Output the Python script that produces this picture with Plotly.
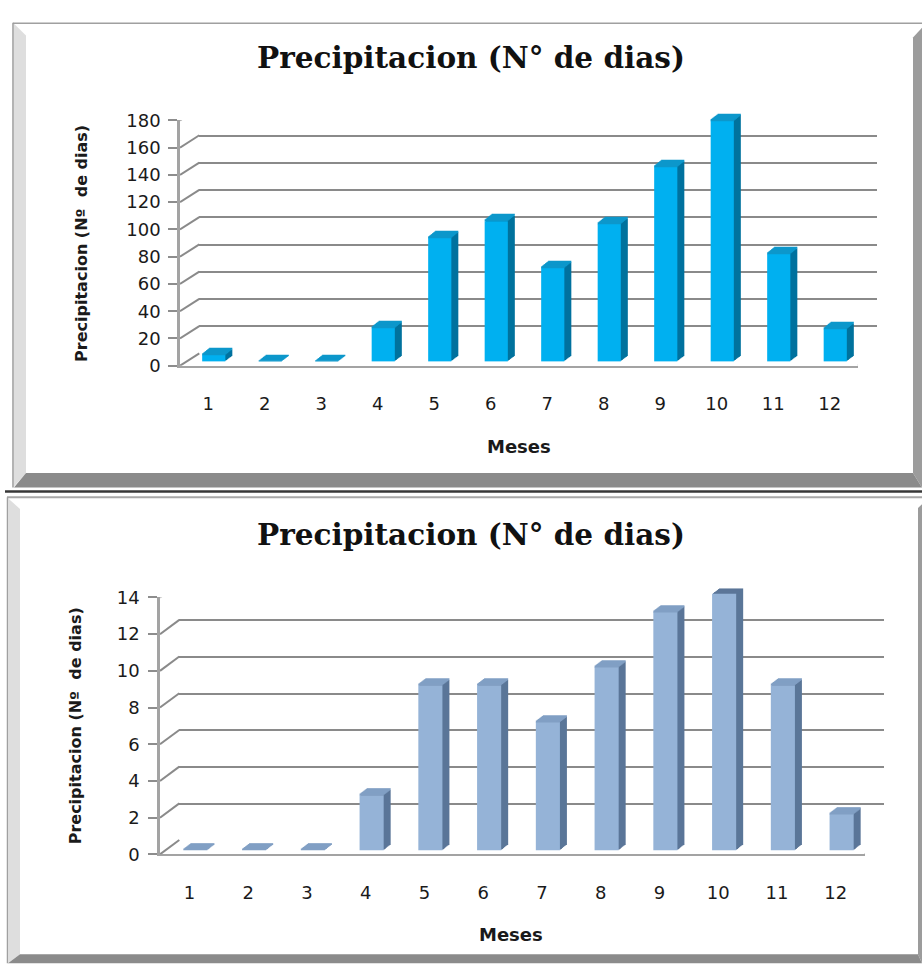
import plotly.graph_objects as go

W, H = 922, 980

# ---------------- data ----------------
meses = [1, 2, 3, 4, 5, 6, 7, 8, 9, 10, 11, 12]
meses_labels = ["1", "2", "3", "4", "5", "6", "7", "8", "9", "10", "11", "12"]
dias_top = [5, 0, 0, 25, 91, 103, 69, 101, 143, 177, 79, 24]
dias_bottom = [0, 0, 0, 3, 9, 9, 7, 10, 13, 14, 9, 2]
yticks_top = [0, 20, 40, 60, 80, 100, 120, 140, 160, 180]
yticks_bottom = [0, 2, 4, 6, 8, 10, 12, 14]
title_text = "Precipitacion (N° de dias)"
ytitle_text = "Precipitacion (Nº\u00a0 de dias)"
xtitle_text = "Meses"

# ---------------- layout constants (pixels) ----------------
charts = [
    dict(values=dias_top, ticks=yticks_top, ymax=180,
         x0=180, x1=858, y0=362.5, yt=111.7,
         depth=(19.3, 12.3), face=(5.5, 4.2), ext=(7.0, 5.5),
         face_col="#00B0F0", cap_col="#0C97CB", side_col="#00729E",
         title_xy=(471, 48), ytitle_xy=(82, 238), xtitle_xy=(519, 445),
         ytick_standoff=13),
    dict(values=dias_bottom, ticks=yticks_bottom, ymax=14,
         x0=160, x1=865, y0=861.8, yt=599.3,
         depth=(19.3, 14.3), face=(6.0, 4.0), ext=(7.0, 5.5),
         face_col="#95B3D7", cap_col="#819FC4", side_col="#5B7698",
         title_xy=(471, 535), ytitle_xy=(75, 731), xtitle_xy=(511, 944),
         ytick_standoff=14),
]
N_LAYERS = 7
BAR_W = 0.41

fig = go.Figure()
layout = {}
ax = [0]


def new_axes():
    ax[0] += 1
    i = ax[0]
    return i, ("x" if i == 1 else f"x{i}"), ("y" if i == 1 else f"y{i}"), \
        ("xaxis" if i == 1 else f"xaxis{i}"), ("yaxis" if i == 1 else f"yaxis{i}")


def domains(c, dx, dy):
    xd = [(c["x0"] + dx) / W, (c["x1"] + dx) / W]
    yd = [1 - (c["y0"] - dy) / H, 1 - (c["yt"] - dy) / H]
    return xd, yd


def blank_x(xd, yname):
    return dict(domain=xd, range=[0.5, 12.5], anchor=yname, visible=False,
                showgrid=False, zeroline=False, fixedrange=True)


def blank_y(yd, xname, ymax):
    return dict(domain=yd, range=[0, ymax], anchor=xname, visible=False,
                showgrid=False, zeroline=False, fixedrange=True)


annotations = []
shapes = []

for c in charts:
    px_per_unit = (c["y0"] - c["yt"]) / c["ymax"]
    cap_h = 1.2 / px_per_unit

    # back wall with gridlines
    i, xn, yn, xk, yk = new_axes()
    xd, yd = domains(c, *c["depth"])
    layout[xk] = blank_x(xd, yn)
    layout[yk] = dict(domain=yd, range=[0, c["ymax"]], anchor=xn, visible=True,
                      showgrid=True, gridcolor="#8a8a8a", gridwidth=2,
                      tickvals=c["ticks"], showticklabels=False, ticks="",
                      showline=False, zeroline=False, fixedrange=True)
    fig.add_trace(go.Scatter(x=[None], y=[None], xaxis=xn, yaxis=yn,
                             showlegend=False, hoverinfo="skip"))

    # extrusion layers, back to front, then the front face
    sx, sy = c["ext"][0] / N_LAYERS, c["ext"][1] / N_LAYERS
    for k in range(N_LAYERS, -1, -1):
        i, xn, yn, xk, yk = new_axes()
        xd, yd = domains(c, c["face"][0] + k * sx, c["face"][1] + k * sy)
        layout[xk] = blank_x(xd, yn)
        layout[yk] = blank_y(yd, xn, c["ymax"])
        body_col = c["face_col"] if k == 0 else c["side_col"]
        fig.add_trace(go.Bar(x=meses, y=c["values"], width=BAR_W,
                             marker=dict(color=body_col, line=dict(width=0)),
                             xaxis=xn, yaxis=yn, showlegend=False,
                             hoverinfo="skip"))
        fig.add_trace(go.Bar(x=meses, y=[cap_h] * len(meses), base=c["values"],
                             width=BAR_W,
                             marker=dict(color=c["cap_col"], line=dict(width=0)),
                             xaxis=xn, yaxis=yn, showlegend=False,
                             hoverinfo="skip"))

    # front axes with labels
    i, xn, yn, xk, yk = new_axes()
    xd, yd = domains(c, 0, 0)
    layout[xk] = dict(domain=xd, range=[0.5, 12.5], anchor=yn,
                      tickvals=meses, ticktext=meses_labels, ticks="",
                      ticklabelstandoff=21, showline=True, linecolor="#a3a3a3",
                      linewidth=2, showgrid=False, zeroline=False,
                      tickfont=dict(family="DejaVu Sans", size=18, color="#1a1a1a"),
                      fixedrange=True)
    layout[yk] = dict(domain=yd, range=[0, c["ymax"]], anchor=xn,
                      tickvals=c["ticks"], ticks="outside", ticklen=9,
                      tickwidth=1.5, tickcolor="#8d8d8d",
                      ticklabelstandoff=c["ytick_standoff"] - 9,
                      showline=True, linecolor="#a3a3a3", linewidth=2.5,
                      showgrid=False, zeroline=False,
                      tickfont=dict(family="DejaVu Sans", size=18, color="#1a1a1a"),
                      fixedrange=True)
    fig.add_trace(go.Scatter(x=[None], y=[None], xaxis=xn, yaxis=yn,
                             showlegend=False, hoverinfo="skip"))

    # left-wall diagonals from each front tick to the back gridline
    for t in c["ticks"]:
        shapes.append(dict(type="line", xref=xn, yref=yn,
                           xsizemode="pixel", ysizemode="pixel",
                           xanchor=0.5, yanchor=t, x0=0, y0=0,
                           x1=c["depth"][0], y1=c["depth"][1],
                           line=dict(color="#8a8a8a", width=2)))
    # floor right edge
    shapes.append(dict(type="line", xref=xn, yref=yn,
                       xsizemode="pixel", ysizemode="pixel",
                       xanchor=12.5, yanchor=0, x0=0, y0=0,
                       x1=c["depth"][0], y1=c["depth"][1],
                       line=dict(color="#a3a3a3", width=2)))

    # texts
    tx, ty = c["title_xy"]
    annotations.append(dict(text=f"<b>{title_text}</b>", xref="paper", yref="paper",
                            x=tx / W, y=1 - ty / H, xanchor="center", yanchor="middle",
                            showarrow=False,
                            font=dict(family="DejaVu Serif", size=29.5, color="#111111")))
    ax_, ay_ = c["ytitle_xy"]
    annotations.append(dict(text=f"<b>{ytitle_text}</b>", xref="paper", yref="paper",
                            x=ax_ / W, y=1 - ay_ / H, xanchor="center", yanchor="middle",
                            textangle=-90, showarrow=False,
                            font=dict(family="DejaVu Sans", size=16, color="#1a1a1a")))
    mx, my = c["xtitle_xy"]
    annotations.append(dict(text=f"<b>{xtitle_text}</b>", xref="paper", yref="paper",
                            x=mx / W, y=1 - my / H, xanchor="center", yanchor="middle",
                            showarrow=False,
                            font=dict(family="DejaVu Sans", size=18, color="#1a1a1a")))


# ---------------- frames (decoration) ----------------
def path(pts):
    s = "M " + " L ".join(f"{x / W:.5f},{1 - y / H:.5f}" for x, y in pts) + " Z"
    return s


def poly(pts, fill):
    shapes.append(dict(type="path", xref="paper", yref="paper", path=path(pts),
                       fillcolor=fill, line=dict(width=0), layer="below"))


def hline(x0, x1, y, color, w):
    shapes.append(dict(type="line", xref="paper", yref="paper",
                       x0=x0 / W, x1=x1 / W, y0=1 - y / H, y1=1 - y / H,
                       line=dict(color=color, width=w), layer="below"))


def vline(x, y0, y1, color, w):
    shapes.append(dict(type="line", xref="paper", yref="paper",
                       x0=x / W, x1=x / W, y0=1 - y0 / H, y1=1 - y1 / H,
                       line=dict(color=color, width=w), layer="below"))


# top panel
poly([(14, 13), (26, 25), (26, 472), (14, 486)], "#dedede")
poly([(913, 27), (922, 17), (922, 487), (913, 472)], "#9c9c9c")
poly([(14, 487), (26, 472), (913, 472), (922, 487)], "#8b8b8b")
hline(13, 922, 12.5, "#a0a0a0", 1.5)
vline(13, 12, 487, "#9a9a9a", 1.5)
# separator
hline(5, 922, 491, "#383838", 2.5)
# bottom panel
hline(7, 922, 497, "#a8a8a8", 2)
vline(7.5, 497, 973, "#a0a0a0", 1.5)
poly([(8, 498), (20, 509), (20, 964), (8, 973)], "#dedede")
poly([(918, 508), (922, 504), (922, 973), (918, 964)], "#9c9c9c")
poly([(8, 973), (20, 964), (918, 964), (922, 973)], "#8b8b8b")

fig.update_layout(
    width=W, height=H, autosize=False,
    margin=dict(l=0, r=0, t=0, b=0),
    paper_bgcolor="white", plot_bgcolor="rgba(0,0,0,0)",
    barmode="overlay", showlegend=False,
    annotations=annotations, shapes=shapes,
    **layout,
)

fig.write_html(
    "out.html",
    config={"displayModeBar": False},
    post_script="document.body.style.margin='0';document.body.style.overflow='hidden';",
)
